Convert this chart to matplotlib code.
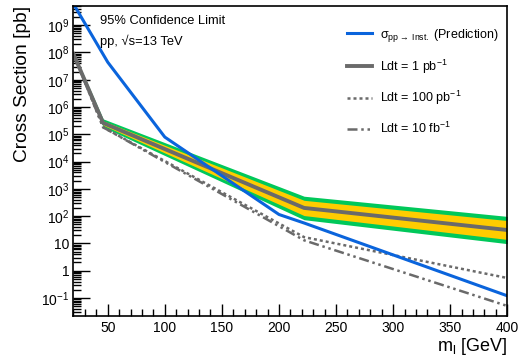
import numpy as np
import matplotlib
matplotlib.use("Agg")
import matplotlib.pyplot as plt
from matplotlib.ticker import FixedLocator, MultipleLocator, LogLocator, FuncFormatter, NullFormatter

plt.rcParams['font.family'] = ['Liberation Sans', 'DejaVu Sans']
plt.rcParams['mathtext.fontset'] = 'custom'
plt.rcParams['mathtext.rm'] = 'Liberation Sans'
plt.rcParams['mathtext.it'] = 'Liberation Sans:italic'

# prediction
mass_pred = [20, 50, 100, 200, 222, 400]
xsec_pred = [6e9, 4.4e7, 7.9e4, 115, 56, 0.12]

# limits
mass_lim = [20, 46, 222, 400]
lim_1pb = [8.7e7, 2.6e5, 200, 31]
lim_100pb = [8.7e7, 1.8e5, 17, 0.54]
lim_10fb = [8.7e7, 1.8e5, 13, 0.051]
band2_lo = [7.2e7, 1.84e5, 74, 9.8]
band2_hi = [1.05e8, 3.67e5, 537, 98]
band1_lo = [7.9e7, 2.15e5, 105, 14]
band1_hi = [9.5e7, 3.1e5, 380, 69]

gris = '#6a6a6a'
azul = '#0a64dc'
punteado = (1.2, 1.2)
raya_punto = (4, 1.5, 1, 1.5, 1, 1.5)

fig = plt.figure(figsize=(5.23, 3.59), dpi=100)
ax = fig.add_axes([0.1405, 0.12, 0.8295, 0.863])

ax.fill_between(mass_lim, band2_lo, band2_hi, color='#00c85a', lw=0)
ax.fill_between(mass_lim, band1_lo, band1_hi, color='#ffcc00', lw=0)
ax.plot(mass_lim, lim_10fb, color=gris, lw=1.8, dashes=raya_punto)
ax.plot(mass_lim, lim_100pb, color=gris, lw=1.8, dashes=punteado)
ax.plot(mass_lim, lim_1pb, color=gris, lw=2.8)
ax.plot(mass_pred, xsec_pred, color=azul, lw=2.2)

ax.set_yscale('log')
ax.set_xlim(20, 400)
ax.set_ylim(0.022, 5e9)

ax.xaxis.set_major_locator(FixedLocator([50, 100, 150, 200, 250, 300, 350, 400]))
ax.xaxis.set_minor_locator(MultipleLocator(10))
ax.yaxis.set_major_locator(LogLocator(base=10, numticks=20))
ax.yaxis.set_minor_locator(LogLocator(base=10, subs=np.arange(2, 10), numticks=20))
ax.yaxis.set_minor_formatter(NullFormatter())


def fmt(v, pos):
    e = int(round(np.log10(v)))
    if e == 0:
        return '1'
    if e == 1:
        return '10'
    return r'$10^{%d}$' % e


ax.yaxis.set_major_formatter(FuncFormatter(fmt))
ax.tick_params(which='both', direction='in', labelsize=10, width=1)
ax.tick_params(axis='y', which='major', length=12, pad=3)
ax.tick_params(axis='y', which='minor', length=6)
ax.tick_params(axis='x', which='major', length=9, pad=4)
ax.tick_params(axis='x', which='minor', length=5)
for s in ax.spines.values():
    s.set_linewidth(1.2)

ax.set_ylabel('Cross Section [pb]', fontsize=13.8, loc='top')
ax.yaxis.set_label_coords(-0.098, 1.0)
ax.set_xlabel(r'm$_{\mathrm{l}}$ [GeV]', fontsize=13, loc='right')
ax.xaxis.set_label_coords(1.0, -0.065)

ax.text(0.061, 0.952, '95% Confidence Limit', transform=ax.transAxes, fontsize=9.3, va='center')
ax.text(0.061, 0.887, 'pp, √s=13 TeV', transform=ax.transAxes, fontsize=9.3, va='center')

h = [
    plt.Line2D([], [], color=azul, lw=2.2),
    plt.Line2D([], [], color=gris, lw=2.8),
    plt.Line2D([], [], color=gris, lw=1.8, dashes=punteado),
    plt.Line2D([], [], color=gris, lw=1.8, dashes=raya_punto),
]
labels = [
    r'σ$_{\mathrm{pp}\rightarrow\ \mathrm{Inst.}}$ (Prediction)',
    r'Ldt = 1 pb$^{-1}$',
    r'Ldt = 100 pb$^{-1}$',
    r'Ldt = 10 fb$^{-1}$',
]
ax.legend(h, labels, loc='upper left', bbox_to_anchor=(0.62, 0.95), frameon=False,
          fontsize=9, handlelength=2.0, handletextpad=0.6, labelspacing=1.1, borderaxespad=0)

fig.savefig('out.png', dpi=100)
